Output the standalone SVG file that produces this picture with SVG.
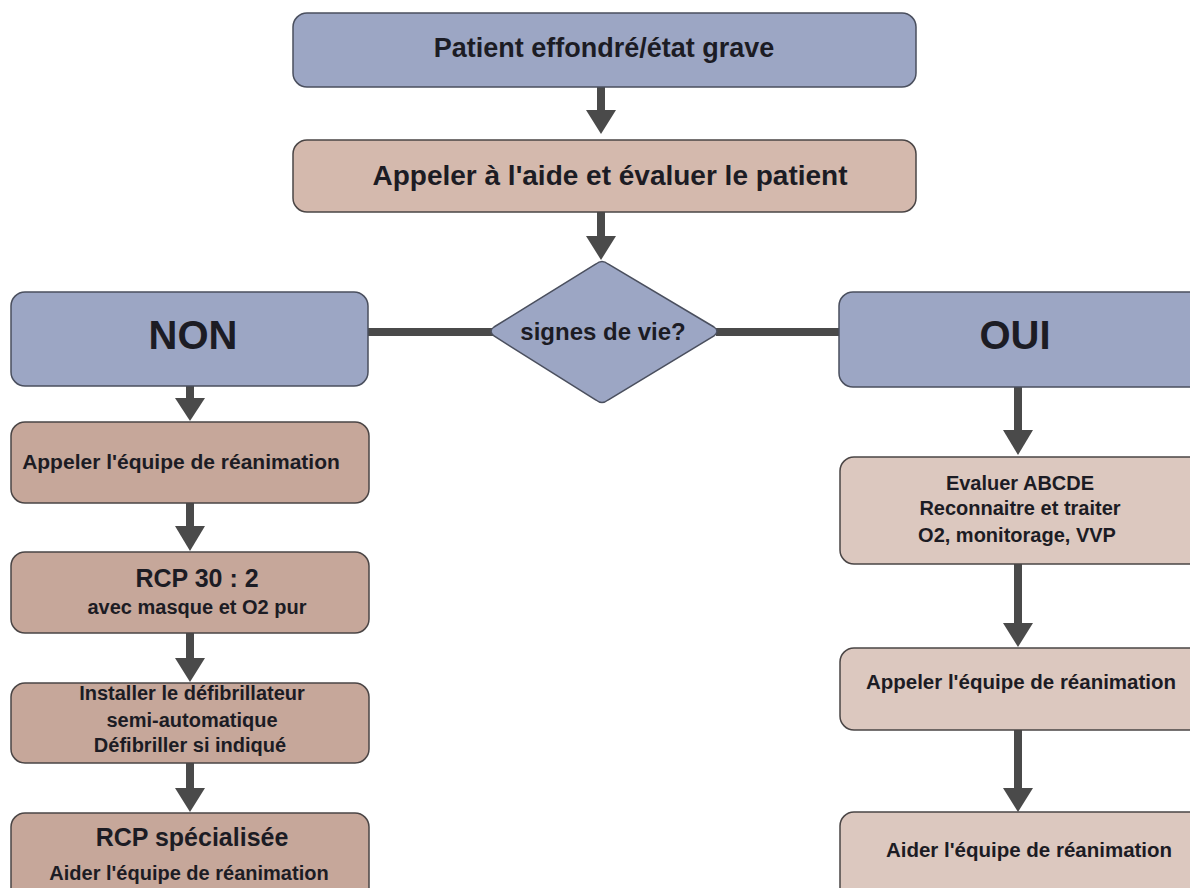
<svg xmlns="http://www.w3.org/2000/svg" width="1190" height="888" viewBox="0 0 1190 888">
<style>
.blue{fill:#9ca6c4;stroke:#4a4f5e;stroke-width:1.5}
.tan{fill:#d4b9ad;stroke:#4a4545;stroke-width:1.5}
.tanl{fill:#c6a79a;stroke:#4a4545;stroke-width:1.5}
.tanr{fill:#dcc8bf;stroke:#4a4545;stroke-width:1.5}
text{font-family:"Liberation Sans",Arial,sans-serif;font-weight:bold;text-anchor:middle;fill:#1c1c24}
.conn line{stroke:#4a4a4a;stroke-width:8}
.conn polygon{fill:#4a4a4a}
</style>
<rect width="1190" height="888" fill="#ffffff"/>
<g class="conn" id="connectors">
<line x1="601" y1="87" x2="601" y2="112"/><polygon points="586,110 616,110 601,134"/>
<line x1="601" y1="212" x2="601" y2="238"/><polygon points="586,236 616,236 601,260"/>
<line x1="368" y1="332" x2="494" y2="332"/>
<line x1="716" y1="332" x2="840" y2="332"/>
<line x1="190" y1="386" x2="190" y2="400"/><polygon points="175,398 205,398 190,421"/>
<line x1="190" y1="503" x2="190" y2="528"/><polygon points="175,526 205,526 190,551"/>
<line x1="190" y1="633" x2="190" y2="660"/><polygon points="175,658 205,658 190,682"/>
<line x1="190" y1="763" x2="190" y2="790"/><polygon points="175,788 205,788 190,812"/>
<line x1="1018" y1="387" x2="1018" y2="432"/><polygon points="1003,430 1033,430 1018,455"/>
<line x1="1018" y1="564" x2="1018" y2="625"/><polygon points="1003,623 1033,623 1018,647"/>
<line x1="1018" y1="730" x2="1018" y2="790"/><polygon points="1003,788 1033,788 1018,812"/>
</g>
<g id="start"><rect class="blue" x="293" y="13" width="623" height="74" rx="14"/><text x="604" y="57" font-size="27">Patient effondré/état grave</text></g>
<g id="appeler-aide"><rect class="tan" x="293" y="140" width="623" height="72" rx="14"/><text x="610" y="185" font-size="28">Appeler à l'aide et évaluer le patient</text></g>
<g id="decision"><path class="blue" d="M596,264 Q602,259 608,264 L714,327 Q720,331 714,336 L608,400 Q602,405 596,400 L494,336 Q488,331 494,327 Z"/><text x="603" y="340" font-size="24">signes de vie?</text></g>
<g id="non"><rect class="blue" x="11" y="292" width="357" height="94" rx="14"/><text x="193" y="349" font-size="40">NON</text></g>
<g id="oui"><rect class="blue" x="839" y="292" width="365" height="95" rx="14"/><text x="1015" y="349" font-size="40">OUI</text></g>
<g id="l1"><rect class="tanl" x="11" y="422" width="358" height="81" rx="14"/><text x="181" y="469" font-size="21">Appeler l'équipe de réanimation</text></g>
<g id="l2"><rect class="tanl" x="11" y="552" width="358" height="81" rx="14"/><text x="197" y="587" font-size="25">RCP 30 : 2</text><text x="197" y="614" font-size="20">avec masque et O2 pur</text></g>
<g id="l3"><rect class="tanl" x="11" y="683" width="358" height="80" rx="14"/><text x="192" y="700" font-size="20">Installer le défibrillateur</text><text x="192" y="727" font-size="20">semi-automatique</text><text x="190" y="752" font-size="20">Défibriller si indiqué</text></g>
<g id="l4"><rect class="tanl" x="11" y="813" width="358" height="95" rx="14"/><text x="192" y="846" font-size="25">RCP spécialisée</text><text x="189" y="880" font-size="20">Aider l'équipe de réanimation</text></g>
<g id="r1"><rect class="tanr" x="840" y="457" width="364" height="107" rx="14"/><text x="1020" y="490" font-size="20">Evaluer ABCDE</text><text x="1020" y="515" font-size="20">Reconnaitre et traiter</text><text x="1017" y="542" font-size="20">O2, monitorage, VVP</text></g>
<g id="r2"><rect class="tanr" x="840" y="648" width="364" height="82" rx="14"/><text x="1021" y="689" font-size="20.5">Appeler l'équipe de réanimation</text></g>
<g id="r3"><rect class="tanr" x="840" y="812" width="364" height="96" rx="14"/><text x="1029" y="857" font-size="20.5">Aider l'équipe de réanimation</text></g>
</svg>
